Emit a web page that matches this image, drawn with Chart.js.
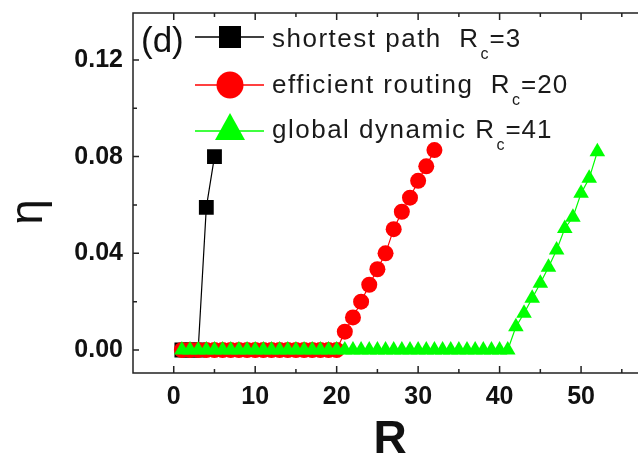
<!DOCTYPE html>
<html>
<head>
<meta charset="utf-8">
<script src="https://cdn.jsdelivr.net/npm/chart.js@4.4.1/dist/chart.umd.min.js"></script>
<style>
html, body { margin: 0; padding: 0; background: #fff; }
#wrap { width: 638px; height: 455px; }
</style>
</head>
<body>
<div id="wrap"><canvas id="plot" width="638" height="455"></canvas></div>
<script>
// values
var rShortest = [1, 2, 3, 4, 5];
var etaShortest = [0, 0, 0, 0.059, 0.080];

var rEfficient = [1, 2, 3, 4, 5, 6, 7, 8, 9, 10, 11, 12, 13, 14, 15, 16, 17, 18, 19, 20,
                  21, 22, 23, 24, 25, 26, 27, 28, 29, 30, 31, 32];
var etaEfficient = [0, 0, 0, 0, 0, 0, 0, 0, 0, 0, 0, 0, 0, 0, 0, 0, 0, 0, 0, 0,
                    0.0076, 0.0135, 0.020, 0.027, 0.0334, 0.040, 0.050, 0.0572, 0.063, 0.070, 0.076, 0.0827];

var rGlobal = [1, 2, 3, 4, 5, 6, 7, 8, 9, 10, 11, 12, 13, 14, 15, 16, 17, 18, 19, 20,
               21, 22, 23, 24, 25, 26, 27, 28, 29, 30, 31, 32, 33, 34, 35, 36, 37, 38, 39, 40,
               41, 42, 43, 44, 45, 46, 47, 48, 49, 50, 51, 52];
var etaGlobal = [0, 0, 0, 0, 0, 0, 0, 0, 0, 0, 0, 0, 0, 0, 0, 0, 0, 0, 0, 0,
                 0, 0, 0, 0, 0, 0, 0, 0, 0, 0, 0, 0, 0, 0, 0, 0, 0, 0, 0, 0,
                 0, 0.0096, 0.0152, 0.0214, 0.0276, 0.0342, 0.0414, 0.0503, 0.0549, 0.0648, 0.071, 0.082];

var seriesNames = ["shortest path", "efficient routing", "global dynamic"];
var seriesRc = ["3", "20", "41"];
var xTicks = [0, 10, 20, 30, 40, 50];
var yTicks = [0, 0.04, 0.08, 0.12];

function pts(xs, ys) {
  var out = [];
  for (var i = 0; i < xs.length; i++) out.push({x: xs[i], y: ys[i]});
  return out;
}

function noPad(s) {
  s.paddingTop = 0; s.paddingBottom = 0; s.paddingLeft = 0; s.paddingRight = 0;
  if (s._margins) { s._margins.left = 0; s._margins.right = 0; s._margins.top = 0; s._margins.bottom = 0; }
}

var frame = {
  id: 'frame',
  afterDraw: function(chart) {
    var ctx = chart.ctx, a = chart.chartArea;
    var xs = chart.scales.x, ys = chart.scales.y;
    ctx.save();
    ctx.strokeStyle = '#222';
    ctx.lineWidth = 1.5;
    ctx.beginPath();
    ctx.moveTo(chart.width, a.top); ctx.lineTo(a.left, a.top);
    ctx.lineTo(a.left, a.bottom); ctx.lineTo(chart.width, a.bottom);
    ctx.stroke();

    // inward ticks, major and minor
    ctx.beginPath();
    xTicks.forEach(function(v, i) {
      var px = xs.getPixelForValue(v);
      ctx.moveTo(px, a.bottom); ctx.lineTo(px, a.bottom - 7);
      ctx.moveTo(px, a.top); ctx.lineTo(px, a.top + 7);
      var m = xs.getPixelForValue(v + 5);
      if (m < chart.width) {
        ctx.moveTo(m, a.bottom); ctx.lineTo(m, a.bottom - 4);
        ctx.moveTo(m, a.top); ctx.lineTo(m, a.top + 4);
      }
    });
    yTicks.forEach(function(v) {
      var py = ys.getPixelForValue(v);
      ctx.moveTo(a.left, py); ctx.lineTo(a.left + 6, py);
      var m = ys.getPixelForValue(v + 0.02);
      if (m > a.top) { ctx.moveTo(a.left, m); ctx.lineTo(a.left + 4, m); }
    });
    ctx.stroke();

    // axis titles
    ctx.fillStyle = '#111';
    ctx.textAlign = 'center';
    ctx.textBaseline = 'alphabetic';
    ctx.font = 'bold 46px "Liberation Sans", Arial, sans-serif';
    ctx.fillText('R', 390, 453);
    ctx.save();
    ctx.translate(42, 212);
    ctx.rotate(-Math.PI / 2);
    ctx.font = '46px "Liberation Sans", Arial, sans-serif';
    ctx.fillText('\u03b7', 0, 0);
    ctx.restore();

    // panel label and legend
    ctx.textAlign = 'left';
    ctx.font = '35px "Liberation Sans", Arial, sans-serif';
    ctx.fillText('(d)', 141, 52);

    var rows = [37, 85, 131];
    var baselines = [47, 93, 138];
    var colors = ['#000000', '#ff0000', '#00ff00'];
    var labels = [seriesNames[0] + '  ', seriesNames[1] + '  ', seriesNames[2] + ' '];
    for (var i = 0; i < 3; i++) {
      var cy = rows[i];
      ctx.strokeStyle = colors[i];
      ctx.lineWidth = 1.5;
      ctx.beginPath(); ctx.moveTo(195, cy); ctx.lineTo(264, cy); ctx.stroke();
      ctx.fillStyle = colors[i];
      ctx.beginPath();
      if (i === 0) {
        ctx.rect(219, cy - 11, 22, 22);
      } else if (i === 1) {
        ctx.arc(230, cy, 13.5, 0, Math.PI * 2);
      } else {
        ctx.moveTo(230, cy - 18); ctx.lineTo(245, cy + 9); ctx.lineTo(215, cy + 9); ctx.closePath();
      }
      ctx.fill();

      ctx.fillStyle = '#1a1a1a';
      var x = 272, base = baselines[i];
      ctx.font = '26px "Liberation Sans", Arial, sans-serif';
      ctx.letterSpacing = '1.5px';
      var t = labels[i] + 'R';
      ctx.fillText(t, x, base);
      x += ctx.measureText(t).width + 1;
      ctx.letterSpacing = '0px';
      ctx.font = '16px "Liberation Sans", Arial, sans-serif';
      ctx.fillText('c', x, base + 12);
      x += ctx.measureText('c').width + 1;
      ctx.font = '26px "Liberation Sans", Arial, sans-serif';
      ctx.letterSpacing = '1px';
      ctx.fillText('=' + seriesRc[i], x, base);
    }
    ctx.restore();
  }
};

var tickFont = { family: '"Liberation Sans", Arial, sans-serif', size: 25, weight: 'bold' };

new Chart(document.getElementById('plot'), {
  type: 'scatter',
  data: {
    datasets: [
      { label: seriesNames[2], data: pts(rGlobal, etaGlobal), showLine: true,
        borderColor: '#00ff00', backgroundColor: '#00ff00', borderWidth: 1.2,
        pointStyle: 'triangle', pointRadius: 9, pointBorderWidth: 0 },
      { label: seriesNames[1], data: pts(rEfficient, etaEfficient), showLine: true,
        borderColor: '#ff0000', backgroundColor: '#ff0000', borderWidth: 1.2,
        pointStyle: 'circle', pointRadius: 8, pointBorderWidth: 0 },
      { label: seriesNames[0], data: pts(rShortest, etaShortest), showLine: true,
        borderColor: '#000000', backgroundColor: '#000000', borderWidth: 1.2,
        pointStyle: 'rect', pointRadius: 10.5, pointBorderWidth: 0 }
    ]
  },
  options: {
    responsive: false,
    animation: false,
    devicePixelRatio: 1,
    layout: { padding: { top: 13, right: 0, left: 0, bottom: 0 } },
    plugins: { legend: { display: false }, tooltip: { enabled: false } },
    scales: {
      x: {
        type: 'linear', min: -5, max: 55.7,
        afterFit: function(s) { s.height = 82; noPad(s); },
        grid: { display: false, drawTicks: false },
        border: { display: false },
        ticks: { stepSize: 10, includeBounds: false, font: tickFont, color: '#111', padding: 9, maxRotation: 0 }
      },
      y: {
        type: 'linear', min: -0.0095, max: 0.1394,
        afterFit: function(s) { s.width = 133; noPad(s); },
        grid: { display: false, drawTicks: false },
        border: { display: false },
        ticks: { stepSize: 0.04, includeBounds: false, font: tickFont, color: '#111', padding: 10,
                 callback: function(v) { return v.toFixed(2); } }
      }
    }
  },
  plugins: [frame]
});
</script>
</body>
</html>
